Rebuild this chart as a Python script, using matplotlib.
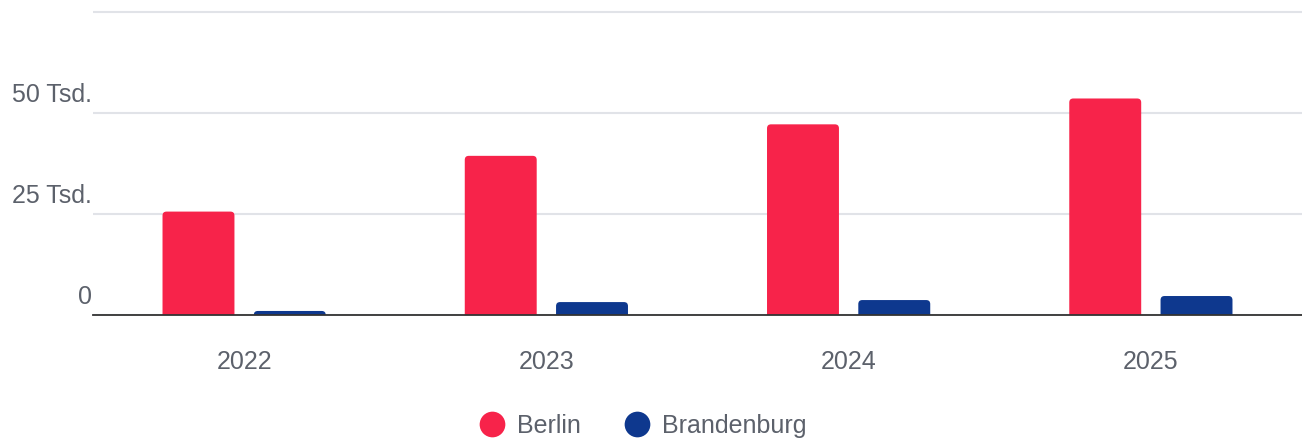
import matplotlib
matplotlib.use("Agg")
import matplotlib.pyplot as plt
import matplotlib.transforms as mtransforms
from matplotlib.patches import FancyBboxPatch
from matplotlib.lines import Line2D
import numpy as np

years = ["2022", "2023", "2024", "2025"]
berlin = [25600, 39400, 47200, 53600]
brandenburg = [1000, 3200, 3700, 4700]
series_names = ["Berlin", "Brandenburg"]
ytick_values = [0, 25000, 50000, 75000]
ytick_labels = ["0", "25 Tsd.", "50 Tsd.", ""]

red = "#f7234a"
navy = "#0e388e"
text_color = "#5c616b"
grid_color = "#e1e3e8"

plt.rcParams["font.family"] = ["Liberation Sans", "DejaVu Sans"]
fs = 18

fig = plt.figure(figsize=(13.02, 4.38), dpi=100)
ax = fig.add_axes([93 / 1302, 1 - 315 / 438, 1 - 93 / 1302, 307 / 438])

x = np.arange(len(years))
w = 0.238
off = 0.151
b1 = ax.bar(x - off, berlin, w, color=red, label=series_names[0], zorder=3)
b2 = ax.bar(x + off, brandenburg, w, color=navy, label=series_names[1], zorder=3)

ax.set_xlim(-0.5, 3.5)
ax.set_ylim(0, 76000)

# rounded top corners: swap plain bars for rounded boxes (bottom hidden below 0)
rx = 4 / 302
ry = 4 * 25000 / 101
for bars in (b1, b2):
    for p in bars:
        rb = FancyBboxPatch((p.get_x(), -ry), p.get_width(), p.get_height() + ry,
                            boxstyle=f"round,pad=0,rounding_size={rx}",
                            mutation_aspect=ry / rx, facecolor=p.get_facecolor(),
                            edgecolor="none", zorder=3)
        ax.add_patch(rb)
        p.set_visible(False)

ax.set_yticks(ytick_values)
ax.set_yticklabels([])
ax.grid(axis="y", color=grid_color, linewidth=1.5, zorder=0)
ax.tick_params(axis="y", length=0)

ax.set_xticks(x)
ax.set_xticklabels(years, fontsize=fs, color=text_color)
ax.tick_params(axis="x", length=0, pad=25)

for s in ["top", "left", "right"]:
    ax.spines[s].set_visible(False)
ax.spines["bottom"].set_color("#333333")
ax.spines["bottom"].set_linewidth(1.3)
ax.spines["bottom"].set_zorder(4)

# y labels sit above their gridlines, right-aligned at the plot edge
trans = mtransforms.blended_transform_factory(ax.transAxes, ax.transData)
trans = mtransforms.offset_copy(trans, fig=fig, x=-1, y=11, units="dots")
for v, lab in zip(ytick_values, ytick_labels):
    if lab:
        ax.text(0, v, lab, transform=trans, ha="right", va="baseline",
                fontsize=fs, color=text_color)

handles = [Line2D([], [], linestyle="none", marker="o", markersize=18.5,
                  markerfacecolor=c, markeredgecolor="none") for c in (red, navy)]
fig.legend(handles, series_names, loc="center", bbox_to_anchor=(643 / 1302, 1 - 426 / 438),
           ncol=2, frameon=False, fontsize=fs, labelcolor=text_color,
           handlelength=1.0, handletextpad=0.5, columnspacing=1.75, borderpad=0, borderaxespad=0)

fig.savefig("out.png", dpi=100)
